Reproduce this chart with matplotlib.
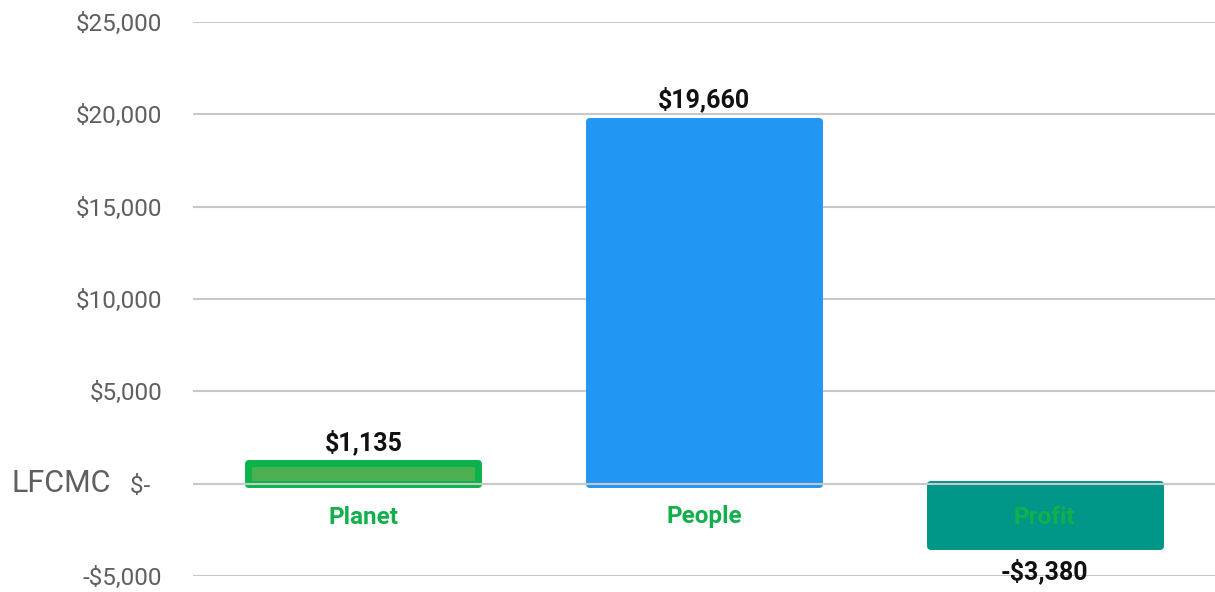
import matplotlib.pyplot as plt
from matplotlib.ticker import FuncFormatter
from matplotlib.transforms import blended_transform_factory

plt.rcParams['font.family'] = ['Roboto', 'DejaVu Sans']

categories = ['Planet', 'People', 'Profit']
values = [1135, 19660, -3380]
fill_colors = ['#4CAF50', '#2196F3', '#009688']
edge_colors = ['#0BB34C', '#2196F3', '#009688']
yticks = [-5000, 0, 5000, 10000, 15000, 20000, 25000]


def money(v, pos=None):
    if v == 0:
        # accounting style zero, with a bit of trailing room
        return '$-  ' if pos is not None else '$-'
    if v < 0:
        return '-${:,.0f}'.format(-v)
    return '${:,.0f}'.format(v)


fig = plt.figure(figsize=(12.15, 5.92), dpi=100)
ax = fig.add_axes([193 / 1215, 16 / 592, 1 - 193 / 1215, 554 / 592])

x = range(len(categories))
bars = ax.bar(x, values, width=0.675, color=fill_colors, edgecolor=edge_colors,
              linewidth=5, zorder=2)
for b in bars:
    b.set_joinstyle('round')

ax.set_xlim(-0.5, 2.5)
ax.set_ylim(-5000, 25000)
ax.set_yticks(yticks)
ax.yaxis.set_major_formatter(FuncFormatter(money))
ax.tick_params(axis='y', length=0, pad=22, labelsize=17.5, labelcolor='#5f5f5f')
ax.set_xticks([])
ax.grid(axis='y', color='#c8c8c8', linewidth=1.5, zorder=0)
ax.axhline(0, color='#c8c8c8', linewidth=1.5, zorder=3)
for s in ax.spines.values():
    s.set_visible(False)

# value labels
for i, v in enumerate(values):
    off = 15 if v >= 0 else -18
    ax.annotate(money(v), xy=(i, v), xytext=(0, off), textcoords='offset points',
                ha='center', va='center', fontsize=18, fontweight='bold',
                color='#111111', zorder=5)

# category labels just below the zero line
for i, c in enumerate(categories):
    ax.annotate(c, xy=(i, 0), xytext=(0, -24), textcoords='offset points',
                ha='center', va='center', fontsize=17.5, fontweight='bold',
                color='#12B04C', zorder=5)

trans = blended_transform_factory(fig.transFigure, ax.transData)
ax.text(12 / 1215, 0, 'LFCMC', transform=trans, ha='left', va='center',
        fontsize=22, color='#5f5f5f')

fig.savefig('out.png', dpi=100)
